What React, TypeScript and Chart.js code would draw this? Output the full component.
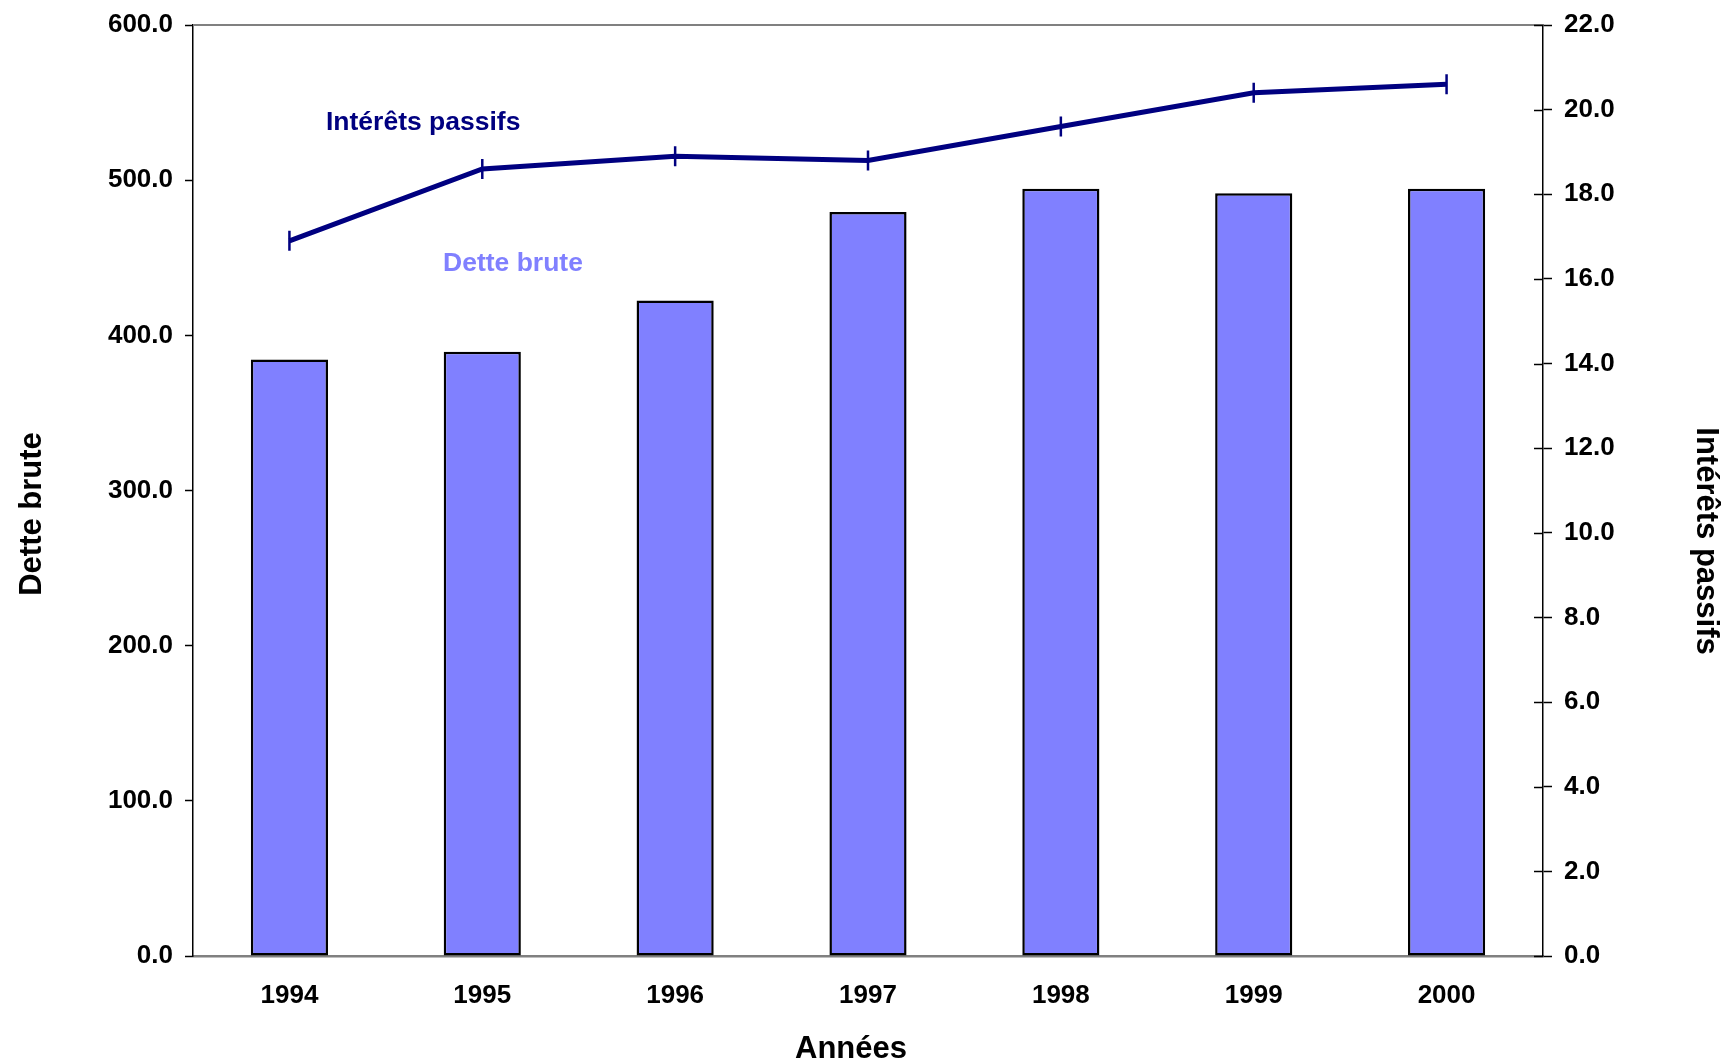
import React, { useEffect, useRef } from 'react';
import { Chart, registerables } from 'chart.js';

Chart.register(...registerables);

const years = ['1994', '1995', '1996', '1997', '1998', '1999', '2000'];
const detteBrute = [384.5, 389.5, 422.5, 479.5, 494.5, 491.5, 494.5];
const interetsPassifs = [16.9, 18.6, 18.9, 18.8, 19.6, 20.4, 20.6];

const FAMILY = '"Liberation Sans", Arial, Helvetica, sans-serif';
const BAR_COLOR = '#8080FF';
const LINE_COLOR = '#000080';

const decorPlugin = {
  id: 'decor',
  afterDraw(chart: any) {
    const { ctx, chartArea: a, scales } = chart;
    ctx.save();
    // top border of plot
    ctx.strokeStyle = '#808080';
    ctx.lineWidth = 2;
    ctx.beginPath();
    ctx.moveTo(a.left, a.top);
    ctx.lineTo(a.right, a.top);
    ctx.stroke();
    // inward part of right-axis ticks
    const y1 = scales.y1;
    ctx.strokeStyle = '#000';
    ctx.lineWidth = 1.5;
    y1.ticks.forEach((_t: any, i: number) => {
      const py = Math.round(y1.getPixelForTick(i)) + 0.5;
      ctx.beginPath();
      ctx.moveTo(a.right - 9, py);
      ctx.lineTo(a.right, py);
      ctx.stroke();
    });
    // axis titles
    ctx.fillStyle = '#000';
    ctx.font = `bold 31px ${FAMILY}`;
    ctx.textAlign = 'center';
    ctx.textBaseline = 'alphabetic';
    ctx.fillText('Années', 851, 1058);

    ctx.save();
    ctx.translate(41, 514);
    ctx.rotate(-Math.PI / 2);
    ctx.fillText('Dette brute', 0, 0);
    ctx.restore();

    ctx.save();
    ctx.translate(1697, 541);
    ctx.rotate(Math.PI / 2);
    ctx.fillText('Intérêts passifs', 0, 0);
    ctx.restore();

    // series annotations
    ctx.font = `bold 26.5px ${FAMILY}`;
    ctx.textAlign = 'left';
    ctx.fillStyle = LINE_COLOR;
    ctx.fillText('Intérêts passifs', 326, 130);
    ctx.fillStyle = BAR_COLOR;
    ctx.fillText('Dette brute', 443, 271);
    ctx.restore();
  },
};

export default function App() {
  const ref = useRef<HTMLCanvasElement | null>(null);

  useEffect(() => {
    document.body.style.margin = '0';
    const tickFont = { family: FAMILY, size: 26, weight: 'bold' as const };
    const yTickFont = { family: FAMILY, size: 26, weight: 'bold' as const, lineHeight: 1 };
    const chart = new Chart(ref.current as HTMLCanvasElement, {
      type: 'bar',
      data: {
        labels: years,
        datasets: [
          {
            type: 'line' as const,
            label: 'Intérêts passifs',
            data: interetsPassifs,
            yAxisID: 'y1',
            borderColor: LINE_COLOR,
            backgroundColor: LINE_COLOR,
            borderWidth: 5,
            pointStyle: 'line',
            rotation: 90,
            pointRadius: 10,
            pointBorderWidth: 2.5,
            pointBorderColor: LINE_COLOR,
            tension: 0,
            order: 0,
          } as any,
          {
            type: 'bar' as const,
            label: 'Dette brute',
            data: detteBrute,
            yAxisID: 'y',
            backgroundColor: BAR_COLOR,
            borderColor: '#000',
            borderWidth: 2.5,
            borderSkipped: false,
            barPercentage: 0.4,
            categoryPercentage: 1.0,
            order: 1,
          } as any,
        ],
      },
      options: {
        responsive: false,
        animation: false,
        devicePixelRatio: 1,
        layout: { padding: { top: 24, left: 0, right: 0, bottom: 0 } },
        plugins: {
          legend: { display: false },
          tooltip: { enabled: false },
        },
        scales: {
          x: {
            offset: true,
            grid: { display: false, drawTicks: false },
            border: { display: true, color: '#808080', width: 2.5 },
            ticks: { font: tickFont, color: '#000', padding: 24, maxRotation: 0 },
            afterFit: (s: any) => {
              s.height = 106;
            },
          },
          y: {
            position: 'left',
            min: 0,
            max: 600,
            ticks: {
              stepSize: 100,
              font: yTickFont,
              color: '#000',
              padding: 12,
              callback: (v: any) => Number(v).toFixed(1),
            },
            grid: { drawOnChartArea: false, tickLength: 8, tickColor: '#000', tickWidth: 1.5 },
            border: { display: true, color: '#000', width: 1.5 },
            afterFit: (s: any) => {
              s.width = 193;
            },
          },
          y1: {
            position: 'right',
            min: 0,
            max: 22,
            ticks: {
              stepSize: 2,
              font: yTickFont,
              color: '#000',
              padding: 12,
              callback: (v: any) => Number(v).toFixed(1),
            },
            grid: { drawOnChartArea: false, tickLength: 9, tickColor: '#000', tickWidth: 1.5 },
            border: { display: true, color: '#000', width: 1.5 },
            afterFit: (s: any) => {
              s.width = 184;
            },
          },
        } as any,
      },
      plugins: [decorPlugin],
    });
    return () => chart.destroy();
  }, []);

  return (
    <div style={{ width: 1727, height: 1062, overflow: 'hidden', background: '#fff' }}>
      <canvas ref={ref} width={1727} height={1062} style={{ display: 'block' }} />
    </div>
  );
}
